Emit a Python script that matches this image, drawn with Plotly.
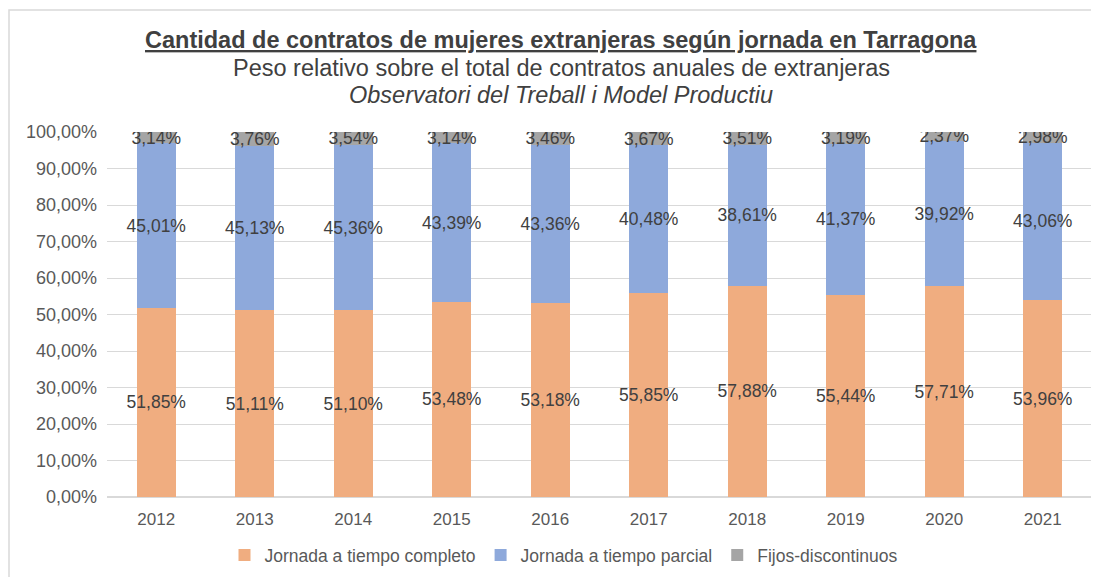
import plotly.graph_objects as go

years = ["2012", "2013", "2014", "2015", "2016", "2017", "2018", "2019", "2020", "2021"]
completo = [51.85, 51.11, 51.10, 53.48, 53.18, 55.85, 57.88, 55.44, 57.71, 53.96]
parcial = [45.01, 45.13, 45.36, 43.39, 43.36, 40.48, 38.61, 41.37, 39.92, 43.06]
fijos = [3.14, 3.76, 3.54, 3.14, 3.46, 3.67, 3.51, 3.19, 2.37, 2.98]
series_names = ["Jornada a tiempo completo", "Jornada a tiempo parcial", "Fijos-discontinuos"]
colors = ["#F0AD80", "#8EA9DB", "#A5A5A5"]

FONT = "Liberation Sans, Arial, sans-serif"
OFF = 8  # page body margin
W, H = 1099, 577
# target plot area in screen pixels
SX0, SX1, SY0, SY1 = 107, 1092, 132, 497
L = SX0 - OFF
T = SY0 - OFF
R = W - (SX1 - OFF)
B = H - (SY1 - OFF)
pw, ph = W - L - R, H - T - B

def px_x(x):
    return (x - OFF - L) / pw

def px_y(y):
    return (H - B - (y - OFF)) / ph

fig = go.Figure()
for name, vals, col in zip(series_names, [completo, parcial, fijos], colors):
    fig.add_trace(go.Bar(
        x=years, y=vals, name=name, marker_color=col, marker_line_width=0,
        text=vals, texttemplate="%{y:.2f}%", textposition="inside", textangle=0,
        insidetextanchor="middle", constraintext="none",
        textfont=dict(family=FONT, size=17.5, color="#404040"),
    ))

fig.update_layout(
    barmode="stack", bargap=0.6,
    width=W, height=H,
    margin=dict(l=L, r=R, t=T, b=B, autoexpand=False),
    paper_bgcolor="white", plot_bgcolor="white",
    separators=",.",
    font=dict(family=FONT, color="#595959"),
    showlegend=True,
    legend=dict(orientation="h", x=px_x(564), xanchor="center", xref="paper",
                y=(H - (555 - OFF)) / H, yanchor="middle", yref="container",
                font=dict(size=17.5, color="#595959"), traceorder="normal",
                itemwidth=30),
    xaxis=dict(tickfont=dict(size=17, color="#595959"), showgrid=False, zeroline=False,
               showline=False, ticks="", automargin=False, ticklabelstandoff=10),
    yaxis=dict(range=[0, 100], dtick=10, tickformat=".2f", ticksuffix="%",
               tickfont=dict(size=18, color="#595959"), gridcolor="#D9D9D9", gridwidth=1,
               zeroline=True, zerolinecolor="#D9D9D9", showline=False, ticks="",
               automargin=False, ticklabelstandoff=9),
    annotations=[
        dict(text="<b><u>Cantidad de contratos de mujeres extranjeras según jornada en Tarragona</u></b>",
             xref="paper", yref="paper", x=px_x(561), y=px_y(40), showarrow=False,
             xanchor="center", yanchor="middle", font=dict(size=23.5, color="#404040", family=FONT)),
        dict(text="Peso relativo sobre el total de contratos anuales de extranjeras",
             xref="paper", yref="paper", x=px_x(561), y=px_y(68), showarrow=False,
             xanchor="center", yanchor="middle", font=dict(size=23.5, color="#404040", family=FONT)),
        dict(text="<i>Observatori del Treball i Model Productiu</i>",
             xref="paper", yref="paper", x=px_x(561), y=px_y(95), showarrow=False,
             xanchor="center", yanchor="middle", font=dict(size=23.5, color="#404040", family=FONT)),
    ],
    shapes=[dict(type="rect", xref="paper", yref="paper", x0=px_x(9), x1=px_x(1120),
                 y0=px_y(600), y1=px_y(10), line=dict(color="#D9D9D9", width=1.5),
                 fillcolor="rgba(0,0,0,0)", layer="below")],
)

fig.write_html("out.html")
